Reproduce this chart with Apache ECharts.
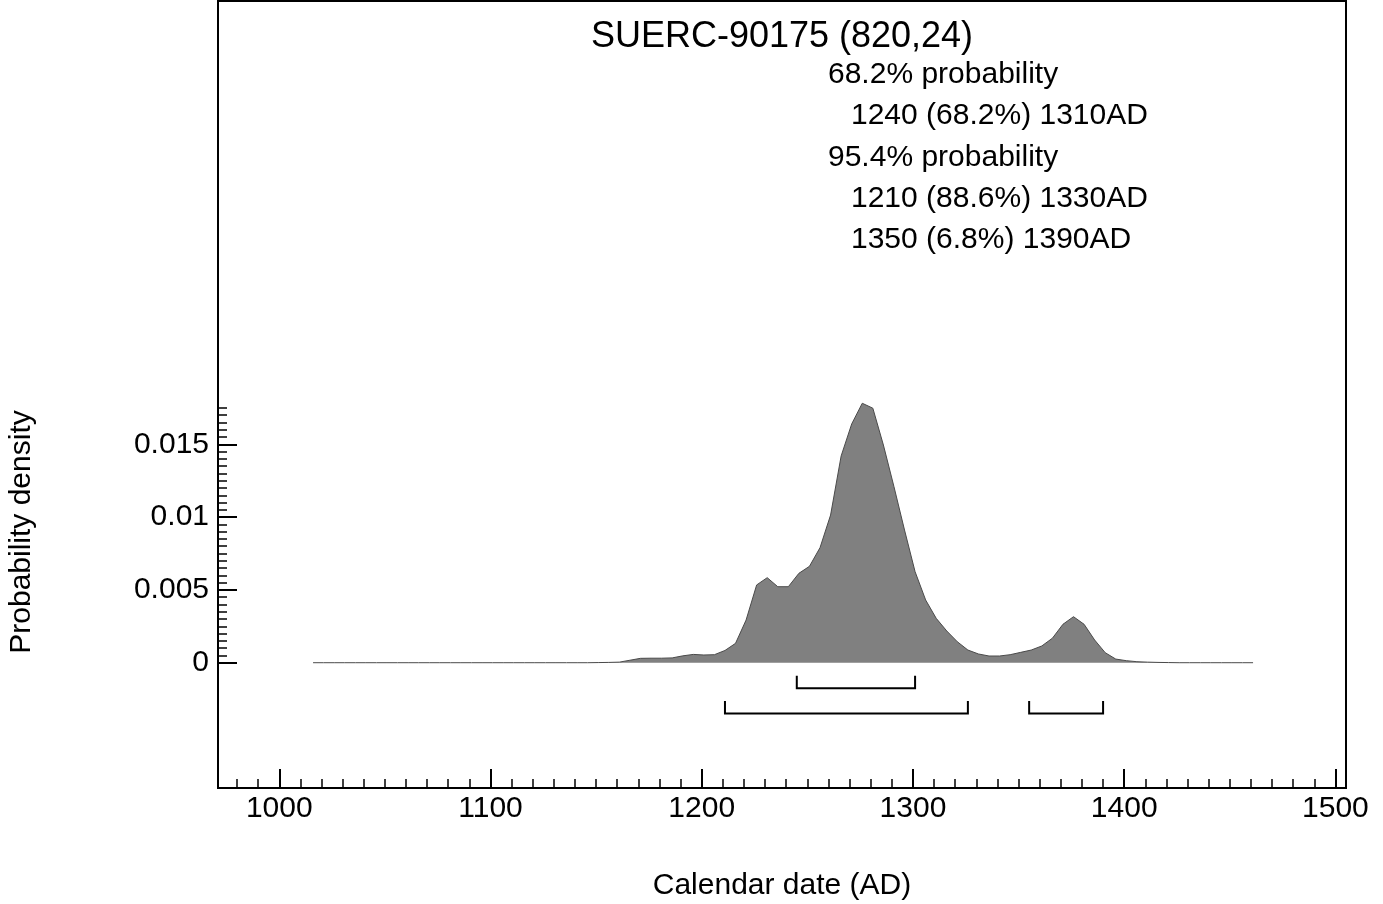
<!DOCTYPE html>
<html>
<head>
<meta charset="utf-8">
<script src="https://cdn.jsdelivr.net/npm/echarts@6/dist/echarts.min.js"></script>
<style>
html,body{margin:0;padding:0;background:#fff;}
#chart{width:1383px;height:904px;}
</style>
</head>
<body>
<div id="chart"></div>
<script>
// ---- Data ----
const titleText = 'SUERC-90175 (820,24)';
const xAxisTitle = 'Calendar date (AD)';
const yAxisTitle = 'Probability density';
const rangeText = [
  '68.2% probability',
  '  1240 (68.2%) 1310AD',
  '95.4% probability',
  '  1210 (88.6%) 1330AD',
  '  1350 (6.8%) 1390AD'
];
const years = [
  1016,1021,1026,1031,1036,1041,1046,1051,1056,1061,
  1066,1071,1076,1081,1086,1091,1096,1101,1106,1111,
  1116,1121,1126,1131,1136,1141,1146,1151,1156,1161,
  1166,1171,1176,1181,1186,1191,1196,1201,1206,1211,
  1216,1221,1226,1231,1236,1241,1246,1251,1256,1261,
  1266,1271,1276,1281,1286,1291,1296,1301,1306,1311,
  1316,1321,1326,1331,1336,1341,1346,1351,1356,1361,
  1366,1371,1376,1381,1386,1391,1396,1401,1406,1411,
  1416,1421,1426,1431,1436,1441,1446,1451,1456,1461
];
const density = [
  0,0,0,0,0,0,0,0,0,0,
  0,0,0,0,0,0,0,0,0,0,
  0,0,0,0,0,0,0,0.00001,0.00002,0.00004,
  0.00017,0.00030,0.00031,0.00031,0.00033,0.00047,0.00057,0.00053,0.00055,0.00084,
  0.00133,0.00293,0.00534,0.00584,0.00522,0.00522,0.00614,0.00662,0.00790,0.01014,
  0.01420,0.01640,0.01782,0.01748,0.01495,0.01209,0.00911,0.00625,0.00431,0.00305,
  0.00218,0.00144,0.00087,0.00060,0.00046,0.00046,0.00055,0.00071,0.00087,0.00115,
  0.00168,0.00264,0.00316,0.00264,0.00156,0.00069,0.00025,0.00014,0.00007,0.00004,
  0.00002,0.00001,0,0,0,0,0,0,0,0
];
const range68 = [[1245, 1301]];
const range95 = [[1211, 1326], [1355, 1390]];
const xMajorTicks = [1000, 1100, 1200, 1300, 1400, 1500];
const xMajorLabels = ['1000', '1100', '1200', '1300', '1400', '1500'];
const yMajorTicks = [0, 0.005, 0.01, 0.015];
const yMajorLabels = ['0', '0.005', '0.01', '0.015'];

// minor tick positions (axis decoration)
const xMinorTicks = [];
for (let v = 980; v <= 1500; v += 10) xMinorTicks.push(v);
const yMinorTicks = [];
for (let i = 0; i <= 35; i++) yMinorTicks.push(+(i * 0.0005).toFixed(4));

const FONT = '"Liberation Sans", Arial, sans-serif';
const X_MIN = 971, X_MAX = 1505;
const Y_MIN = -0.008605, Y_MAX = 0.045447;

const chart = echarts.init(document.getElementById('chart'), null, {renderer: 'canvas'});

function bracketRenderer(row) {
  return function (params, api) {
    const p0 = api.coord([api.value(0), 0]);
    const p1 = api.coord([api.value(1), 0]);
    const y = p0[1] + 25.5 + row * 25.3;
    const h = 12.5;
    return {
      type: 'polyline',
      shape: {points: [[p0[0], y - h], [p0[0], y], [p1[0], y], [p1[0], y - h]]},
      style: {stroke: '#000', lineWidth: 2, fill: null}
    };
  };
}

function labelFor(ticks, labels) {
  return function (v) {
    const i = ticks.findIndex(function (t) { return Math.abs(t - v) < 1e-9; });
    return i >= 0 ? labels[i] : '';
  };
}

const textEls = [
  {type: 'text', x: 782, y: 37, style: {text: titleText, font: '36px ' + FONT, fill: '#000', textAlign: 'center', textVerticalAlign: 'middle'}},
  {type: 'text', x: 782, y: 886, style: {text: xAxisTitle, font: '30px ' + FONT, fill: '#000', textAlign: 'center', textVerticalAlign: 'middle'}},
  {type: 'text', x: 22, y: 532, rotation: Math.PI / 2, style: {text: yAxisTitle, font: '30px ' + FONT, fill: '#000', textAlign: 'center', textVerticalAlign: 'middle'}}
];
const lineY = [75, 116, 158, 199, 240];
rangeText.forEach(function (t, i) {
  const indent = t.indexOf('  ') === 0;
  textEls.push({type: 'text', x: indent ? 851 : 828, y: lineY[i],
    style: {text: t.trim(), font: '30px ' + FONT, fill: '#000', textAlign: 'left', textVerticalAlign: 'middle'}});
});

const option = {
  animation: false,
  backgroundColor: '#fff',
  grid: {left: 218, right: 37, top: 1, bottom: 116, show: true, borderColor: '#000', borderWidth: 2, backgroundColor: 'transparent'},
  xAxis: [
    {
      type: 'value', min: X_MIN, max: X_MAX, position: 'bottom',
      axisLine: {show: true, onZero: false, lineStyle: {color: '#000', width: 2}},
      axisTick: {show: true, inside: true, length: 19, lineStyle: {color: '#000', width: 2}, customValues: xMajorTicks},
      axisLabel: {show: true, margin: 6, fontSize: 30, fontFamily: FONT, color: '#000', customValues: xMajorTicks,
        formatter: labelFor(xMajorTicks, xMajorLabels)},
      splitLine: {show: false}
    },
    {
      type: 'value', min: X_MIN, max: X_MAX, position: 'bottom',
      axisLine: {show: false, onZero: false},
      axisTick: {show: true, inside: true, length: 9, lineStyle: {color: '#000', width: 1.5}, customValues: xMinorTicks},
      axisLabel: {show: false},
      splitLine: {show: false}
    }
  ],
  yAxis: [
    {
      type: 'value', min: Y_MIN, max: Y_MAX, position: 'left',
      axisLine: {show: true, onZero: false, lineStyle: {color: '#000', width: 2}},
      axisTick: {show: true, inside: true, length: 19, lineStyle: {color: '#000', width: 2}, customValues: yMajorTicks},
      axisLabel: {show: true, margin: 9, fontSize: 30, fontFamily: FONT, color: '#000', customValues: yMajorTicks,
        formatter: labelFor(yMajorTicks, yMajorLabels)},
      splitLine: {show: false}
    },
    {
      type: 'value', min: Y_MIN, max: Y_MAX, position: 'left',
      axisLine: {show: false, onZero: false},
      axisTick: {show: true, inside: true, length: 9, lineStyle: {color: '#000', width: 1.5}, customValues: yMinorTicks},
      axisLabel: {show: false},
      splitLine: {show: false}
    }
  ],
  series: [
    {
      type: 'line', xAxisIndex: 0, yAxisIndex: 0,
      data: years.map(function (y, i) { return [y, density[i]]; }),
      symbol: 'none', smooth: false,
      lineStyle: {color: '#4a4a4a', width: 1},
      areaStyle: {color: '#808080', opacity: 1, origin: 0},
      z: 2
    },
    {
      type: 'custom', xAxisIndex: 0, yAxisIndex: 0,
      renderItem: bracketRenderer(0),
      data: range68, clip: false, z: 3
    },
    {
      type: 'custom', xAxisIndex: 0, yAxisIndex: 0,
      renderItem: bracketRenderer(1),
      data: range95, clip: false, z: 3
    }
  ],
  graphic: textEls
};
chart.setOption(option);
</script>
</body>
</html>
